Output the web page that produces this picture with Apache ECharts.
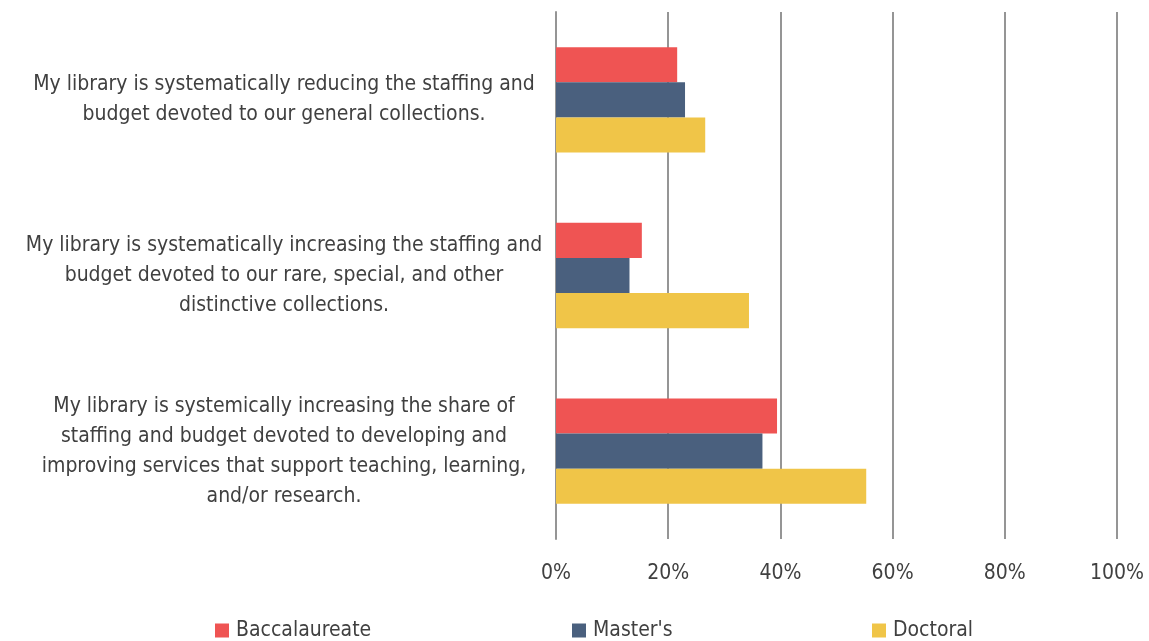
<!DOCTYPE html>
<html>
<head>
<meta charset="utf-8">
<script src="https://cdn.jsdelivr.net/npm/echarts@6/dist/echarts.min.js"></script>
<style>html,body{margin:0;padding:0;background:#fff;}#c{width:1149px;height:641px;}</style>
</head>
<body>
<div id="c"></div>
<script>
const categories = [
  "My library is systematically reducing the staffing and\nbudget devoted to our general collections.",
  "My library is systematically increasing the staffing and\nbudget devoted to our rare, special, and other\ndistinctive collections.",
  "My library is systemically increasing the share of\nstaffing and budget devoted to developing and\nimproving services that support teaching, learning,\nand/or research."
];
const seriesNames = ["Baccalaureate", "Master's", "Doctoral"];
const baccalaureate = [21.6, 15.3, 39.4];
const masters = [23.0, 13.1, 36.8];
const doctoral = [26.6, 34.4, 55.3];
const xTicks = [0, 20, 40, 60, 80, 100];

const colors = ['#EF5453', '#4A607E', '#F0C548'];
const FONT = '"DejaVu Sans Condensed", sans-serif';
const TXT = '#404040';

const chart = echarts.init(document.getElementById('c'), null, {renderer: 'canvas'});
const values = [baccalaureate, masters, doctoral];
const legendLefts = [215, 572, 872];

chart.setOption({
  animation: false,
  color: colors,
  grid: {left: 556, right: 32, top: 12, bottom: 102, containLabel: false},
  legend: seriesNames.map((n, i) => ({
    data: [n], left: legendLefts[i], top: 620, padding: 0, icon: 'rect', itemWidth: 14, itemHeight: 14, itemGap: 4,
    textStyle: {fontFamily: FONT, fontSize: 21, color: TXT, padding: [2, 0, 0, 2]}
  })),
  xAxis: {
    type: 'value', min: 0, max: 100, interval: 20,
    axisLine: {show: false}, axisTick: {show: false},
    splitLine: {show: true, lineStyle: {color: '#959595', width: 2}},
    axisLabel: {formatter: v => xTicks.includes(v) ? v + '%' : '', fontFamily: FONT, fontSize: 21, color: TXT, margin: 24}
  },
  yAxis: {
    type: 'category', inverse: true, data: categories,
    axisLine: {show: true, lineStyle: {color: '#959595', width: 2}}, axisTick: {show: false},
    axisLabel: {
      margin: 22, align: 'right',
      formatter: v => '{a|' + v + '}',
      rich: {a: {width: 500, align: 'center', fontFamily: FONT, fontSize: 21, lineHeight: 30, color: TXT}}
    }
  },
  series: seriesNames.map((n, i) => ({
    name: n, type: 'bar', data: values[i], barCategoryGap: '40%', barGap: '0%',
    itemStyle: {color: colors[i]}
  }))
});
</script>
</body>
</html>
